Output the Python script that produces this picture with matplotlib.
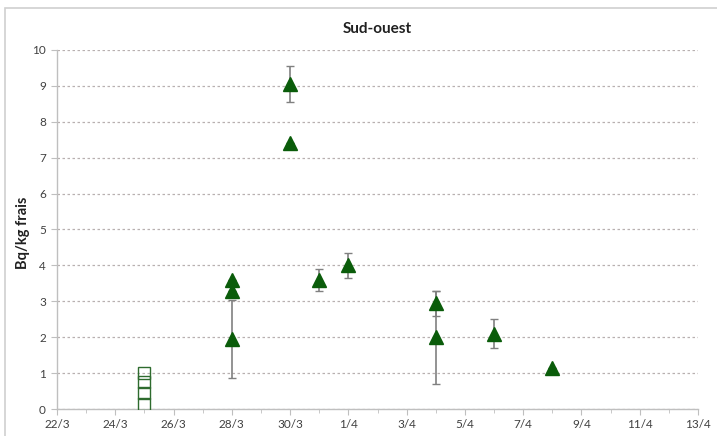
import datetime as dt
import matplotlib
matplotlib.use("Agg")
import matplotlib.pyplot as plt
from matplotlib.patches import Rectangle

# ---- data ----
dates = ["28/3", "28/3", "28/3", "30/3", "30/3", "31/3", "1/4", "4/4", "4/4", "6/4", "8/4"]
values = [3.6, 3.3, 1.95, 9.05, 7.4, 3.6, 4.0, 2.95, 2.0, 2.1, 1.15]
errors = [0.0, 0.0, 1.1, 0.5, 0.0, 0.3, 0.35, 0.35, 1.3, 0.4, 0.0]

open_dates = ["25/3", "25/3", "25/3", "25/3"]
open_values = [0.14, 0.44, 0.74, 0.99]

tick_labels = ["22/3", "24/3", "26/3", "28/3", "30/3", "1/4", "3/4", "5/4", "7/4", "9/4", "11/4", "13/4"]
title = "Sud-ouest"
ylabel = "Bq/kg frais"

start = dt.date(2011, 3, 22)


def to_x(s):
    d, m = s.split("/")
    return (dt.date(2011, int(m), int(d)) - start).days


x = [to_x(s) for s in dates]
xo = [to_x(s) for s in open_dates]
xt = [to_x(s) for s in tick_labels]

plt.rcParams["font.family"] = ["Lato", "DejaVu Sans"]

fig = plt.figure(figsize=(7.17, 4.36), dpi=100)
fig.patches.append(Rectangle((5 / 717, -0.1), 1.2, 1 - 8 / 436 + 0.1,
                             transform=fig.transFigure, fill=False,
                             edgecolor="#d0d0d0", linewidth=1.2))
ax = fig.add_axes([57 / 717, 1 - 409 / 436, (698 - 57) / 717, (409 - 50) / 436])

green = "#0a5c0a"
ax.errorbar(x, values, yerr=errors, fmt="none", ecolor="#808080",
            elinewidth=1.2, capsize=3, capthick=1.0, zorder=2)
ax.plot(x, values, linestyle="none", marker="^", markersize=10,
        color=green, markeredgecolor=green, zorder=3)
ax.plot(xo, open_values, linestyle="none", marker="s", markersize=8,
        markerfacecolor="none", markeredgecolor="#2e6b2e",
        markeredgewidth=1.0, zorder=3)

ax.set_xlim(0, 22)
ax.set_ylim(0, 10)
ax.set_yticks(range(0, 11))
ax.set_xticks(xt)
ax.set_xticklabels(tick_labels)
ax.set_xticks(range(0, 23), minor=True)

ax.grid(axis="y", linestyle=(0, (2, 2)), color="#b8b0b0", linewidth=0.9)
ax.set_axisbelow(True)

for side in ["top", "right"]:
    ax.spines[side].set_visible(False)
for side in ["left", "bottom"]:
    ax.spines[side].set_color("#bfbfbf")
    ax.spines[side].set_linewidth(1.0)

ax.tick_params(axis="both", which="both", color="#bfbfbf", labelsize=8.5,
               labelcolor="#404040")
ax.tick_params(axis="y", length=4, pad=4)
ax.tick_params(axis="x", which="major", length=4, pad=3)
ax.tick_params(axis="x", which="minor", length=3)

ax.set_title(title, fontsize=11, fontweight="bold", color="#202020", pad=12)
ax.set_ylabel(ylabel, fontsize=10.5, fontweight="bold", color="#202020")
ax.yaxis.set_label_coords(-0.042, 0.49)

fig.savefig("out.png", dpi=100)
